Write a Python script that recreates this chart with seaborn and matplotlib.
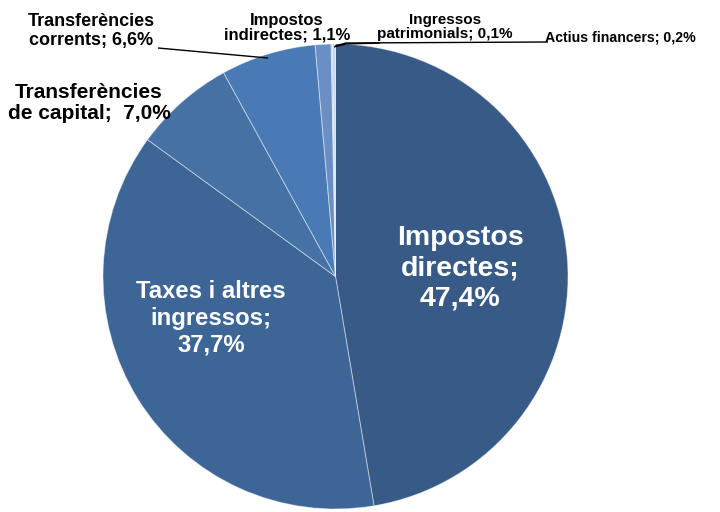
import matplotlib
matplotlib.use("Agg")
import matplotlib.pyplot as plt
import seaborn as sns

categories = ["Impostos directes", "Taxes i altres ingressos", "Transferències de capital",
              "Transferències corrents", "Impostos indirectes", "Ingressos patrimonials",
              "Actius financers"]
values = [47.4, 37.7, 7.0, 6.6, 1.1, 0.1, 0.2]
labels = ["Impostos\ndirectes;\n47,4%", "Taxes i altres\ningressos;\n37,7%",
          "Transferències\nde capital;  7,0%", "Transferències\ncorrents; 6,6%",
          "Impostos\nindirectes; 1,1%", "Ingressos\npatrimonials; 0,1%",
          "Actius financers; 0,2%"]
colors = ["#375A86", "#3D6596", "#4571A5", "#4A7AB5", "#6A8FC5", "#A9BEDE", "#C9D6EC"]

sns.set_style("white")
plt.rcParams["font.family"] = ["Liberation Sans", "DejaVu Sans"]

W, H = 720, 512
fig = plt.figure(figsize=(W / 100, H / 100), dpi=100)
cx, cy, R = 335.5, 276.5, 232.5
ax = fig.add_axes([0, 0, 1, 1])
ax.pie(values, colors=sns.color_palette(colors), startangle=90, counterclock=False,
       radius=1.0, center=(0, 0),
       wedgeprops=dict(edgecolor=(1, 1, 1, 0.45), linewidth=0.7))
ax.set_xlim(-cx / R, (W - cx) / R)
ax.set_ylim(-(H - cy) / R, cy / R)
ax.set_aspect("equal")
ax.axis("off")


def P(x, y):
    return ((x - cx) / R, (cy - y) / R)


# label positions in pixel coordinates (center), font sizes, colours, line spacing
specs = [
    (460, 268, 20.5, "white", 1.22),
    (211, 318, 17.2, "white", 1.2),
    (89, 103, 15, "black", 1.08),
    (91, 31, 13, "black", 1.08),
    (287, 28, 12, "black", 1.0),
    (445, 27, 11, "black", 1.0),
    (620, 37, 10.2, "black", 1.0),
]
for lab, (x, y, fs, col, ls) in zip(labels, specs):
    ax.text(*P(x, y), lab, ha="center", va="center", fontsize=fs, color=col,
            fontweight="bold", linespacing=ls)

# leader lines
lines = [
    [(158, 48), (268, 58)],
    [(548, 42), (346, 43), (335, 46)],
    [(380, 43), (346, 44), (334, 47)],
]
for pts in lines:
    xs, ys = zip(*[P(x, y) for x, y in pts])
    ax.plot(xs, ys, color="black", lw=1.0, solid_capstyle="butt")

fig.savefig("out.png", dpi=100)
